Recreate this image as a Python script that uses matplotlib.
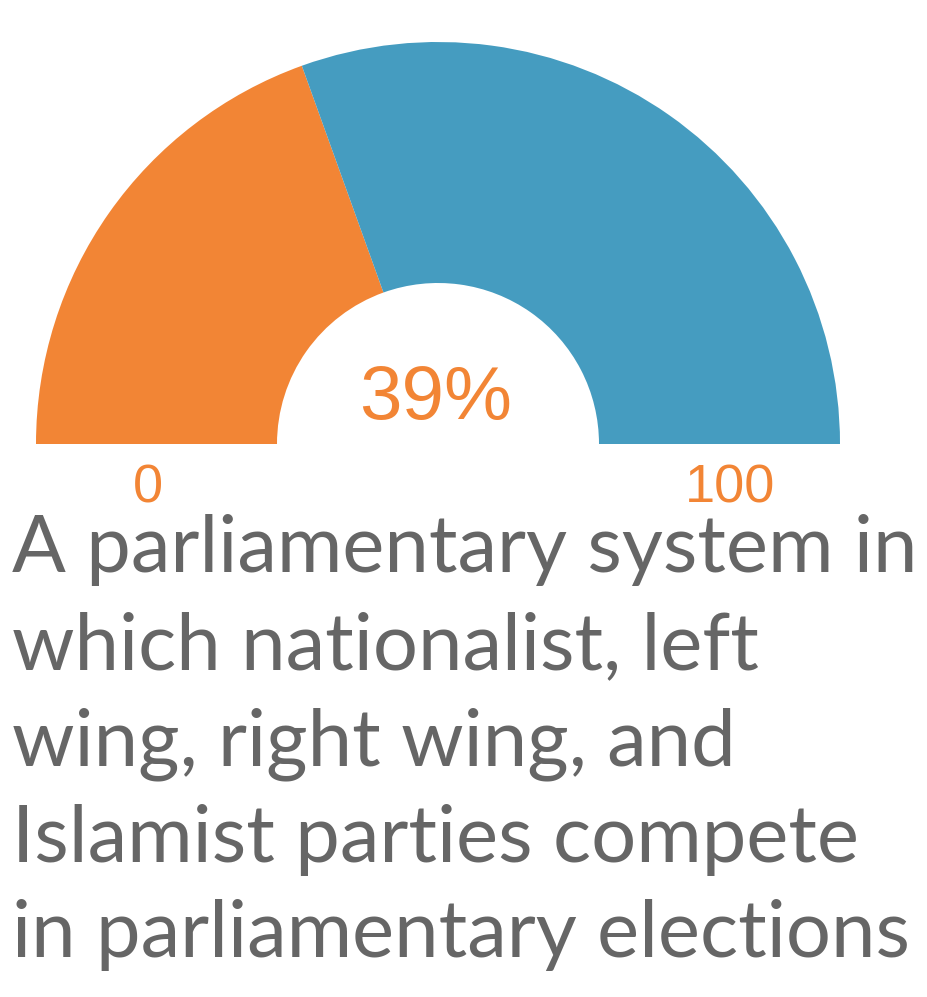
import matplotlib
matplotlib.use("Agg")
import matplotlib.pyplot as plt

# Data
value = 39
gauge_min = 0
gauge_max = 100
value_label = "39%"
min_label = "0"
max_label = "100"
title_lines = [
    "A parliamentary system in",
    "which nationalist, left",
    "wing, right wing, and",
    "Islamist parties compete",
    "in parliamentary elections",
]

W, H = 928, 997
DPI = 100
ORANGE = "#F28535"
BLUE = "#459CC0"
GRAY = "#666666"

fig = plt.figure(figsize=(W / DPI, H / DPI), dpi=DPI)
ax = fig.add_axes([0, 0, 1, 1])

cx, cy_px = 438, 444
R, r_in = 402, 161
cy = H - cy_px

parts = [value - gauge_min, gauge_max - value, gauge_max - gauge_min]
wedges, _ = ax.pie(parts, startangle=180, counterclock=False,
                   colors=[ORANGE, BLUE, "none"], radius=R, center=(cx, cy),
                   wedgeprops=dict(width=R - r_in, linewidth=0))
ax.set_xlim(0, W)
ax.set_ylim(0, H)
ax.set_aspect("equal")
ax.axis("off")

ax.text(436, H - 419, value_label, color=ORANGE, fontsize=55,
        family="Liberation Sans", ha="center", va="baseline")
ax.text(148, H - 502, min_label, color=ORANGE, fontsize=39,
        family="Liberation Sans", ha="center", va="baseline")
ax.text(730, H - 502, max_label, color=ORANGE, fontsize=39,
        family="Liberation Sans", ha="center", va="baseline")

baselines = [572, 669, 765, 862, 957]
for line, b in zip(title_lines, baselines):
    ax.text(12, H - b, line, color=GRAY, fontsize=57.3, family="Lato",
            ha="left", va="baseline")

fig.savefig("out.png", dpi=DPI)
